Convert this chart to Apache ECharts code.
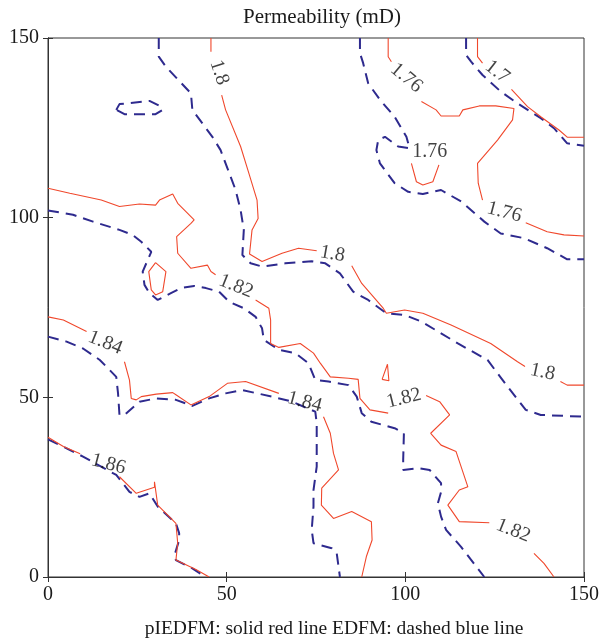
<!DOCTYPE html>
<html><head><meta charset="utf-8">
<script src="https://cdn.jsdelivr.net/npm/echarts@6/dist/echarts.min.js"></script>
<style>html,body{margin:0;padding:0;background:#fff}#c{width:602px;height:639px}</style>
</head><body><div id="c"></div>
<script>
// Axis ticks
const xTicks = [0, 50, 100, 150];
const yTicks = [0, 50, 100, 150];

// pIEDFM (solid red) contour segments, [x, y] in data units
const red_170 = [[120.2,150],[120.2,144.8],[121.6,143.0]];
const red_170b = [[129.7,135.7],[134.2,130.9],[137.9,128.1],[143.0,124.4],[145.3,122.4],[150,122.4]];
const red_176a = [[95.2,150],[95.2,144.8],[96.1,143.4]];
const red_176b = [[104.5,132.3],[108.6,130.0],[110.0,128.3],[115.1,128.3],[116.1,130.0],[120.7,131.1],[125.3,131.1],[130.4,130.4],[130.0,127.2],[125.8,121.6],[120.2,115.1],[120.4,109.6],[121.6,104.9]];
const red_176c = [[133.7,98.6],[139.7,96.1],[144.4,95.2],[150,94.9]];
const red_176loop = [[101.7,115.1],[103.1,110.0],[104.9,109.1],[107.7,110.0],[109.4,114.7]];
const red_180a = [[45.6,150],[45.6,146.2]];
const red_180b = [[48.6,134.1],[49.7,130.0],[53.9,119.8],[56.2,112.4],[58.5,104.9],[58.8,99.8],[57.1,96.6],[56.4,89.9],[59.9,87.8],[65.5,90.1],[70.1,91.5],[75.2,90.8]];
const red_180c = [[85.0,86.6],[87.8,81.7],[93.8,74.8],[94.7,73.4],[99.8,74.3],[104.9,73.4],[112.8,70.1],[123.9,65.0],[131.4,59.9],[133.5,58.6]];
const red_180d = [[143.4,54.4],[145.3,53.4],[150,53.4]];
const red_182a = [[0,108.2],[6.1,106.8],[14.9,104.9],[20.0,103.1],[25.6,103.8],[30.1,103.5],[31.2,104.9],[34.9,106.6],[36.3,104.0],[38.6,101.7],[40.9,99.4],[40.0,98.4],[36.0,94.7],[36.3,90.1],[40.0,85.9],[44.6,86.8],[45.6,85.0],[46.9,84.1]];
const red_182b = [[58.1,77.1],[61.8,74.8],[62.3,71.5],[62.3,65.0],[64.6,63.9],[70.6,65.0],[74.3,62.3],[76.2,59.5],[79.0,55.7],[84.1,55.3],[86.8,55.0],[87.3,49.7],[90.1,46.5],[95.2,45.6]];
const red_182c = [[105.8,50.5],[109.6,48.8],[112.4,45.1],[107.1,40.0],[110.0,36.7],[114.2,34.9],[117.5,25.1],[115.1,24.2],[111.9,20.0],[115.1,15.4],[123.5,15.1]];
const red_182d = [[136.0,6.6],[138.8,3.8],[141.6,0]];
const red_182loop = [[30.1,87.5],[33.0,85.0],[32.1,79.4],[30.1,78.5],[28.9,79.9],[28.2,85.0],[30.1,87.5]];
const red_182tri = [[93.5,55.0],[95.0,59.2],[95.4,54.6],[93.5,55.0]];
const red_184a = [[0,72.4],[4.3,71.5],[10.8,68.3]];
const red_184b = [[21.4,59.9],[22.8,54.8],[23.3,49.7],[24.7,49.3],[26.1,50.2],[30.3,50.9],[34.9,51.3],[35.8,50.7],[40.0,47.9],[45.1,50.2],[50.2,53.9],[55.3,54.4],[64.6,51.1]];
const red_184c = [[77.1,44.6],[79.0,40.0],[79.9,34.4],[81.3,29.8],[76.6,24.7],[76.5,20.0],[79.9,16.3],[85.0,18.2],[90.5,15.4],[90.7,10.3],[89.1,5.7],[87.8,0]];
const red_186a = [[0,38.9],[4.3,36.3],[9.0,34.3]];
const red_186b = [[20.0,27.9],[24.7,23.3],[29.8,25.0],[29.8,26.5],[30.7,20.0],[35.8,14.9],[36.3,9.4],[35.8,4.7],[41.4,2.1],[45.1,0]];

// EDFM (dashed blue) contour lines
const blue_170 = [[117.0,150],[117.0,145.3],[118.4,143.4],[121.6,139.7],[126.7,135.1],[131.4,131.8],[137.9,127.7],[141.6,124.9],[145.3,120.7],[150,120.0]];
const blue_176 = [[87.3,150],[87.3,145.8],[88.2,143.0],[89.6,137.4],[92.9,132.8],[97.0,128.1],[100.3,122.5],[101.2,119.3],[98.0,119.8],[94.3,122.5],[92.4,121.6],[91.9,118.8],[92.9,115.1],[97.0,109.6],[100.8,107.2],[104.9,106.6],[110.0,107.7],[115.6,104.5],[122.1,98.9],[126.7,95.6],[133.2,94.3],[139.7,91.5],[145.3,88.4],[150,88.4]];
const blue_180 = [[31.0,150],[31.0,144.8],[33.0,142.0],[40.0,134.6],[40.4,130.0],[46.0,122.5],[48.3,118.8],[52.5,107.7],[53.9,102.1],[54.8,96.6],[54.4,89.6],[56.7,87.3],[59.9,86.4],[66.4,87.3],[73.8,87.9],[77.6,87.3],[81.7,84.5],[85.4,79.4],[89.6,77.1],[94.7,73.4],[99.8,72.9],[104.5,71.1],[114.7,65.0],[123.0,60.4],[128.6,53.0],[133.7,46.5],[137.9,45.1],[150,44.6]];
const blue_180loop = [[19.1,130.0],[20.0,131.6],[28.4,132.5],[31.2,131.1],[32.1,130.0],[30.1,128.8],[21.4,128.8],[19.1,130.0]];
const blue_182 = [[0,102.0],[7.0,100.8],[12.6,98.9],[20.0,96.6],[23.7,95.2],[26.1,93.3],[28.9,90.5],[26.5,85.0],[27.0,81.3],[28.4,79.0],[30.7,77.1],[34.4,79.0],[37.2,80.4],[40.9,81.0],[44.2,80.4],[47.9,79.4],[50.7,76.6],[54.8,74.8],[58.1,72.4],[59.9,69.2],[60.4,66.0],[64.6,63.2],[69.2,62.3],[72.9,59.5],[74.8,54.8],[78.5,54.4],[84.1,53.4],[86.4,50.2],[87.8,45.6],[90.5,43.2],[97.0,41.4],[99.6,40.0],[99.4,32.6],[99.4,29.8],[103.5,30.3],[106.8,29.8],[110.0,26.1],[110.0,23.7],[109.1,20.5],[110.0,16.8],[111.4,13.1],[115.6,8.4],[122.1,0]];
const blue_184 = [[0,66.9],[5.2,65.5],[9.8,63.6],[14.5,60.4],[19.1,55.7],[19.6,51.1],[20.0,45.1],[21.4,45.1],[25.6,48.8],[30.3,49.7],[35.8,49.3],[40.4,47.6],[45.1,49.7],[49.7,51.1],[54.4,52.0],[62.7,50.2],[68.3,48.8],[74.8,46.0],[75.2,42.8],[75.2,30.7],[74.3,24.2],[74.3,19.6],[73.8,13.1],[74.3,9.4],[79.4,8.0],[80.8,6.6],[81.7,0]];
const blue_186 = [[0,38.3],[5.2,35.8],[9.8,33.5],[19.1,28.4],[22.8,23.7],[25.6,22.3],[28.4,23.3],[30.7,19.6],[35.8,14.9],[36.7,12.2],[36.7,10.3],[35.3,5.7],[35.8,4.7],[40.4,2.4],[44.1,0]];

// Contour labels: [x, y, text]
const contourLabels = [
  [47.9,140.4,'1.8'],[79.6,89.9,'1.8'],[138.4,57.0,'1.8'],
  [100.3,138.9,'1.76'],[106.8,118.4,'1.76'],[127.7,101.5,'1.76'],
  [125.7,140.6,'1.7'],
  [52.6,80.9,'1.82'],[99.6,49.7,'1.82'],[130.2,12.9,'1.82'],
  [16.0,65.2,'1.84'],[71.8,48.7,'1.84'],[16.9,31.4,'1.86']
];
const labelAngles = [-72,-10,-12,-40,0,-15,-38,-22,14,-22,-22,-15,-15];

const RED = '#f0482c', BLUE = '#2e2a8e';
const reds = [red_170,red_170b,red_176a,red_176b,red_176c,red_176loop,red_180a,red_180b,red_180c,red_180d,red_182a,red_182b,red_182c,red_182d,red_182loop,red_182tri,red_184a,red_184b,red_184c,red_186a,red_186b];
const blues = [blue_170,blue_176,blue_180,blue_180loop,blue_182,blue_184,blue_186];

const series = [];
blues.forEach(d => series.push({type:'line', data:d, showSymbol:false, symbol:'none', silent:true,
  lineStyle:{color:BLUE, width:2, type:[11,7]}, z:2}));
reds.forEach(d => series.push({type:'line', data:d, showSymbol:false, symbol:'none', silent:true,
  lineStyle:{color:RED, width:1.1}, z:3}));
series.push({type:'scatter', symbolSize:0, silent:true, z:5,
  data: contourLabels.map((l,i)=>({value:[l[0],l[1]], label:{show:true, position:'inside', formatter:l[2], rotate:labelAngles[i],
    fontFamily:'Liberation Serif', fontSize:20, color:'#111'}}))});

const serif = 'Liberation Serif';
const chart = echarts.init(document.getElementById('c'), null, {renderer:'canvas'});
chart.setOption({
  animation:false,
  backgroundColor:'#fff',
  title:[{text:'Permeability (mD)', left:317, top:2, textAlign:'center',
      textStyle:{fontFamily:serif, fontWeight:'normal', fontSize:21, color:'#1a1a1a'}},
    {text:'pIEDFM: solid red line EDFM: dashed blue line', left:329, top:614, textAlign:'center',
      textStyle:{fontFamily:serif, fontWeight:'normal', fontSize:19.5, color:'#1a1a1a'}}],
  grid:{left:48, top:38, width:539, height:539, show:true, borderColor:'#333', borderWidth:1},
  xAxis:[{type:'value', min:xTicks[0], max:xTicks[xTicks.length-1], interval:50, position:'bottom',
      axisLine:{show:true, lineStyle:{color:'#333'}}, axisTick:{show:true, inside:true, length:5, lineStyle:{color:'#333'}},
      axisLabel:{fontFamily:serif, fontSize:20, color:'#1a1a1a', margin:8}, splitLine:{show:false}},
    {type:'value', min:0, max:150, interval:50, position:'top',
      axisLine:{show:true, lineStyle:{color:'#333'}}, axisTick:{show:true, inside:true, length:5, lineStyle:{color:'#333'}},
      axisLabel:{show:false}, splitLine:{show:false}}],
  yAxis:[{type:'value', min:yTicks[0], max:yTicks[yTicks.length-1], interval:50, position:'left',
      axisLine:{show:true, lineStyle:{color:'#333'}}, axisTick:{show:true, inside:true, length:5, lineStyle:{color:'#333'}},
      axisLabel:{fontFamily:serif, fontSize:20, color:'#1a1a1a', margin:9}, splitLine:{show:false}},
    {type:'value', min:0, max:150, interval:50, position:'right',
      axisLine:{show:true, lineStyle:{color:'#333'}}, axisTick:{show:true, inside:true, length:5, lineStyle:{color:'#333'}},
      axisLabel:{show:false}, splitLine:{show:false}}],
  series: series
});
</script></body></html>
